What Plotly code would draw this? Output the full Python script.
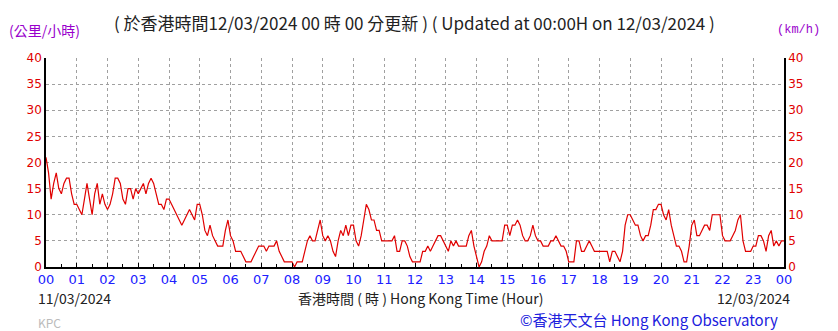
import plotly.graph_objects as go

# 5-minute wind speed values (km/h), one list per hour, 12 values each
hour_values = [
    [21, 18, 13, 16, 18, 15, 14, 16, 17, 17, 14, 12],   # 00
    [12, 11, 10, 13, 16, 13, 10, 14, 16, 12, 14, 12],   # 01
    [11, 12, 14, 17, 17, 16, 13, 12, 15, 15, 13, 15],   # 02
    [14, 15, 16, 14, 16, 17, 16, 14, 12, 12, 11, 13],   # 03
    [13, 12, 11, 10, 9, 8, 9, 10, 11, 10, 9, 12],       # 04
    [12, 10, 7, 6, 8, 6, 5, 4, 4, 4, 7, 9],             # 05
    [6, 5, 3, 3, 3, 2, 1, 1, 1, 2, 3, 4],               # 06
    [4, 4, 3, 4, 4, 4, 5, 3, 2, 1, 1, 1],               # 07
    [1, 0, 1, 1, 1, 3, 5, 6, 5, 5, 7, 9],               # 08
    [6, 5, 6, 5, 3, 2, 5, 7, 6, 8, 6, 8],               # 09
    [8, 5, 4, 6, 9, 12, 11, 9, 9, 7, 7, 5],             # 10
    [5, 5, 5, 5, 6, 3, 3, 5, 5, 4, 2, 1],               # 11
    [1, 1, 1, 3, 3, 4, 3, 4, 5, 6, 6, 5],               # 12
    [4, 3, 5, 4, 5, 4, 4, 4, 4, 6, 7, 4],               # 13
    [2, 0, 1, 3, 4, 6, 5, 5, 5, 5, 5, 8],               # 14
    [8, 6, 8, 8, 9, 8, 6, 5, 5, 6, 8, 6],               # 15
    [5, 5, 4, 4, 4, 5, 5, 6, 5, 4, 4, 3],               # 16
    [1, 1, 1, 5, 5, 3, 3, 4, 5, 4, 3, 3],               # 17
    [3, 3, 3, 3, 1, 3, 3, 2, 1, 3, 8, 10],              # 18
    [10, 9, 8, 8, 6, 5, 6, 6, 8, 11, 11, 12],           # 19
    [12, 10, 9, 11, 8, 6, 4, 4, 3, 1, 1, 4],            # 20
    [8, 9, 6, 6, 7, 8, 8, 7, 10, 10, 10, 10],           # 21
    [6, 5, 5, 5, 6, 7, 9, 10, 5, 3, 3, 3],              # 22
    [4, 4, 6, 6, 5, 3, 6, 7, 4, 5, 4, 5],               # 23
]
final_value = 5

speeds = [v for hour in hour_values for v in hour] + [final_value]
hours = [i * 5 / 60 for i in range(len(speeds))]

x_tick_vals = list(range(25))
x_tick_text = [f"{h % 24:02d}" for h in range(25)]
y_tick_vals = list(range(0, 41, 5))

W, H = 838, 331
ML, MR, MT, MB = 46, 54, 58, 64
PW, PH = W - ML - MR, H - MT - MB

fig = go.Figure()
fig.add_trace(go.Scatter(x=hours, y=speeds, mode="lines",
                         line=dict(color="#e00000", width=1.2),
                         hoverinfo="skip", showlegend=False))
fig.add_trace(go.Scatter(x=[0], y=[0], yaxis="y2", mode="markers",
                         marker=dict(opacity=0), hoverinfo="skip", showlegend=False))

grid = dict(showgrid=True, gridcolor="#a0a0a0", griddash="dot", gridwidth=1)

fig.update_layout(
    width=W, height=H,
    margin=dict(l=ML, r=MR, t=MT, b=MB),
    paper_bgcolor="white", plot_bgcolor="white",
    xaxis=dict(range=[0, 24], tickvals=x_tick_vals, ticktext=x_tick_text,
               tickfont=dict(family="DejaVu Sans", size=13, color="#2020ff"),
               ticks="inside", ticklen=4, tickcolor="black",
               minor=dict(dtick=0.5, ticks="inside", ticklen=3, tickcolor="black"),
               showline=True, linecolor="black", linewidth=1.5, zeroline=False,
               **grid),
    yaxis=dict(range=[0, 40], tickvals=y_tick_vals,
               tickfont=dict(family="DejaVu Sans", size=12, color="#e00000"),
               ticks="", showline=True, linecolor="black", linewidth=1.5,
               zeroline=False, **grid),
    yaxis2=dict(range=[0, 40], tickvals=y_tick_vals, overlaying="y", side="right",
                tickfont=dict(family="DejaVu Sans", size=12, color="#e00000"),
                showline=True, linecolor="black", linewidth=1.5,
                showgrid=False, zeroline=False),
)

cjk = "Noto Sans CJK TC"
annotations = [
    dict(text="(公里/小時)", x=8, y=30, xanchor="left", font=dict(family=cjk, size=14, color="#9900cc")),
    dict(text="( 於香港時間12/03/2024 00 時 00 分更新 ) ( Updated at 00:00H on 12/03/2024 )",
         x=113, y=23, xanchor="left", font=dict(family=cjk, size=17, color="#222222")),
    dict(text="(km/h)", x=821, y=30, xanchor="right", font=dict(family="Liberation Mono", size=12, color="#9900cc")),
    dict(text="11/03/2024", x=37, y=298, xanchor="left", font=dict(family=cjk, size=14, color="#222222")),
    dict(text="香港時間 ( 時 ) Hong Kong Time (Hour)", x=420, y=298, xanchor="center",
         font=dict(family=cjk, size=14, color="#222222")),
    dict(text="12/03/2024", x=791, y=298, xanchor="right", font=dict(family=cjk, size=14, color="#222222")),
    dict(text="KPC", x=37, y=322, xanchor="left", font=dict(family=cjk, size=12, color="#bbbbbb")),
    dict(text="©香港天文台 Hong Kong Observatory", x=779, y=319, xanchor="right",
         font=dict(family=cjk, size=15, color="#2020dd")),
]
for a in annotations:
    fig.add_annotation(text=a["text"], xref="paper", yref="paper",
                       x=(a["x"] - ML) / PW, y=(H - MB - a["y"]) / PH,
                       xanchor=a["xanchor"], yanchor="middle", borderpad=0,
                       showarrow=False, font=a["font"])

fig.write_html("out.html")
